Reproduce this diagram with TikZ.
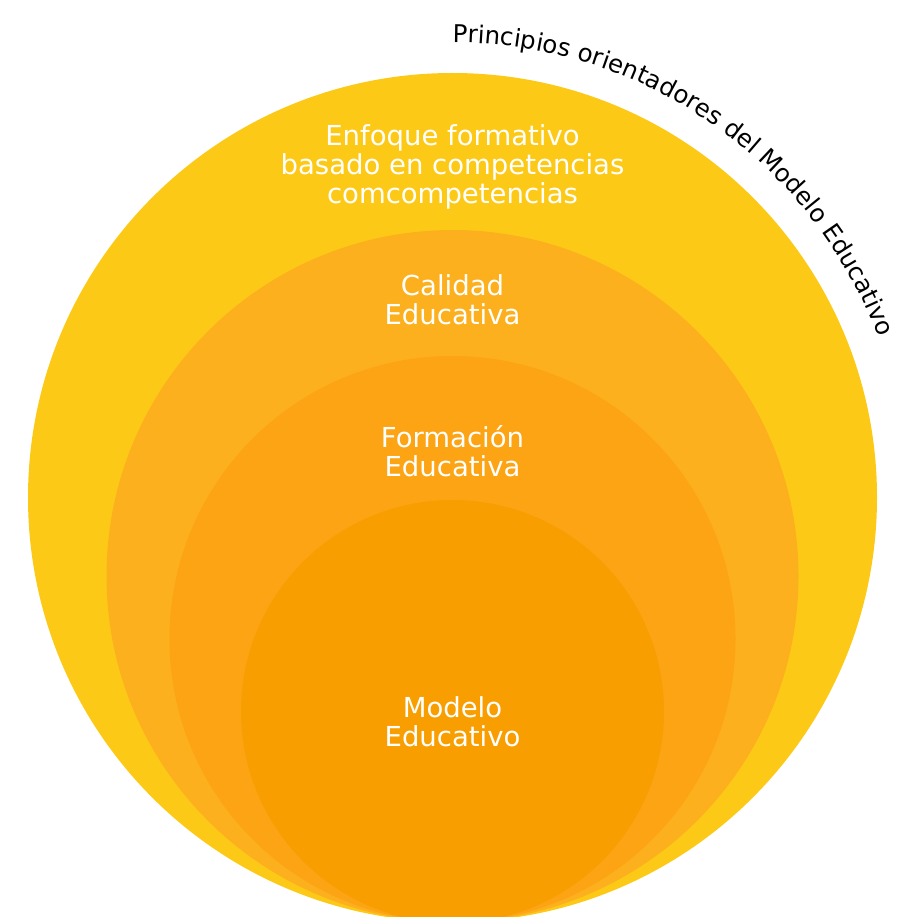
\documentclass[tikz,border=0pt]{standalone}
\usepackage{fontspec}
\setmainfont{DejaVu Sans}
\usetikzlibrary{decorations.text}
\definecolor{c1}{HTML}{FDC917}
\definecolor{c2}{HTML}{FDB01D}
\definecolor{c3}{HTML}{FCA413}
\definecolor{c4}{HTML}{F99E01}
\begin{document}
\begin{tikzpicture}[x=1pt,y=1pt,
  ring/.style={circle, inner sep=0pt, draw=none, minimum size=#1},
  lbl/.style={text=white, font=\fontsize{27.5}{29}\selectfont, align=center, anchor=base, inner sep=0pt}]
\useasboundingbox (0,0) rectangle (912,-917);
\begin{scope}
\clip (0,0) rectangle (912,-917);
\node[ring=849, fill=c1] (outer) at (452.5,-497.5) {};
\node[ring=692, fill=c2] (calidad) at (452.5,-576) {};
\node[ring=566, fill=c3] (formacion) at (452.5,-639) {};
\node[ring=423, fill=c4] (modelo) at (452.5,-711.5) {};
\end{scope}
\path[decorate, decoration={text along path, text align=left,
  text={|\fontsize{24.5}{24.5}\selectfont|Principios orientadores del Modelo Educativo}}]
  (outer.center) ++(90:455) arc[start angle=90, end angle=-10, radius=455];
\node[lbl] (t1) at (452.5,-203.5) {Enfoque formativo\\basado en competencias\\comcompetencias};
\node[lbl] (t2) at (452.5,-324.5) {Calidad\\Educativa};
\node[lbl] (t3) at (452.5,-476) {Formación\\Educativa};
\node[lbl, font=\fontsize{27.5}{28.3}\selectfont] (t4) at (452.5,-746) {Modelo\\Educativo};
\end{tikzpicture}
\end{document}
